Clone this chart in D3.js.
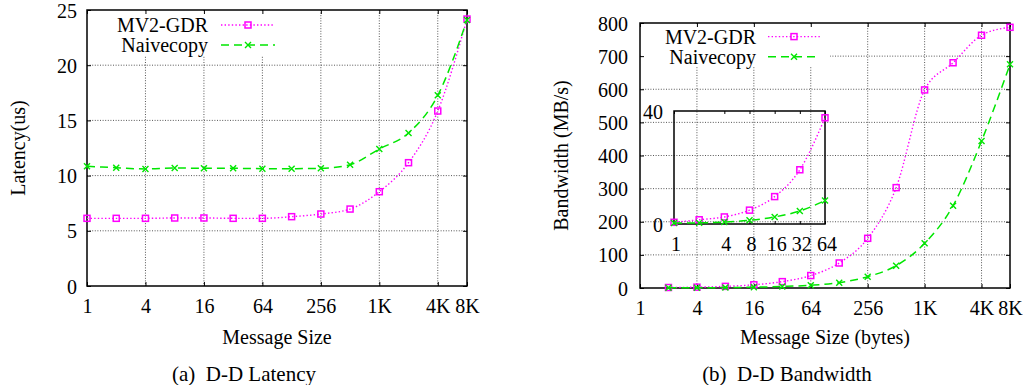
<!DOCTYPE html>
<html><head><meta charset="utf-8">
<script src="https://cdn.jsdelivr.net/npm/d3@7/dist/d3.min.js"></script>
<style>
body{margin:0;background:#fff}
svg{display:block}
text{font-family:"Liberation Serif","Times New Roman",serif;fill:#000}
</style>
</head><body>
<svg id="c" width="1025" height="385"></svg>
<script>
// ---------- data ----------
const sizeTicks = [1, 4, 16, 64, 256, 1024, 4096, 8192];
const sizeTickLabels = ["1", "4", "16", "64", "256", "1K", "4K", "8K"];

const latSizes = [1, 2, 4, 8, 16, 32, 64, 128, 256, 512, 1024, 2048, 4096, 8192];
const latMV2 = [6.13, 6.13, 6.13, 6.16, 6.16, 6.13, 6.13, 6.28, 6.52, 6.97, 8.54, 11.17, 15.85, 24.18];
const latNaive = [10.84, 10.72, 10.60, 10.69, 10.66, 10.66, 10.63, 10.63, 10.66, 10.99, 12.41, 13.86, 17.27, 24.09];
const latYTicks = [0, 5, 10, 15, 20, 25];

const bwSizes = [1, 2, 4, 8, 16, 32, 64, 128, 256, 512, 1024, 2048, 4096, 8192];
const bwMV2 = [0.6, 1.5, 2.5, 4.9, 9.7, 19.2, 37.6, 75.5, 150, 303, 598, 680, 763, 787];
const bwNaive = [0.35, 0.4, 0.7, 1.3, 2.5, 4.6, 8.3, 16.1, 34.2, 67.4, 134.8, 248.6, 443.8, 675.2];
const bwYTicks = [0, 100, 200, 300, 400, 500, 600, 700, 800];

const insetTicks = [1, 4, 8, 16, 32, 64];
const insetTickLabels = ["1", "4", "8", "16", "32", "64"];
const insetYTicks = [0, 40];

const seriesNames = ["MV2-GDR", "Naivecopy"];
const captions = ["(a)\u2002D-D Latency", "(b)\u2002D-D Bandwidth"];
const xTitles = ["Message Size", "Message Size (bytes)"];
const yTitles = ["Latency(us)", "Bandwidth (MB/s)"];

// ---------- styles ----------
const MAG = "#ff00ff", GRN = "#00e600";
const FONT = '"Liberation Serif","Times New Roman",serif';
const styles = [
  {color: MAG, dash: "1.4,2.2", width: 1.4, marker: "square"},
  {color: GRN, dash: "8,5", width: 1.5, marker: "cross"}
];

const svg = d3.select("#c").attr("font-family", FONT);
svg.append("rect").attr("width", 1025).attr("height", 385).attr("fill", "#fff");

function drawMarker(g, type, cx, cy, color) {
  if (type === "square") {
    g.append("rect").attr("x", cx - 3).attr("y", cy - 3).attr("width", 6).attr("height", 6)
      .attr("fill", "none").attr("stroke", color).attr("stroke-width", 1.5);
  } else {
    g.append("path").attr("d", `M${cx-3},${cy-3}L${cx+3},${cy+3}M${cx-3},${cy+3}L${cx+3},${cy-3}`)
      .attr("stroke", color).attr("stroke-width", 1.4).attr("fill", "none");
  }
}

function drawSeries(g, x, y, xs, ys, st) {
  const pts = xs.map((d, i) => [x(d), y(ys[i])]);
  g.append("path").attr("d", d3.line().curve(d3.curveMonotoneX)(pts))
    .attr("fill", "none").attr("stroke", st.color).attr("stroke-width", st.width)
    .attr("stroke-dasharray", st.dash);
  pts.forEach(p => drawMarker(g, st.marker, p[0], p[1], st.color));
}

function panel(o) {
  const g = svg.append("g");
  const x = d3.scaleLog().base(2).domain([1, 8192]).range([o.x0, o.x1]);
  const y = d3.scaleLinear().domain([0, o.yTicks[o.yTicks.length - 1]]).range([o.y1, o.y0]);

  // grid
  const grid = g.append("g").attr("stroke", "#444").attr("stroke-width", 0.9).attr("stroke-dasharray", "1,1.6");
  sizeTicks.slice(1, -1).forEach(t => grid.append("line").attr("x1", x(t)).attr("x2", x(t)).attr("y1", o.y0).attr("y2", o.y1));
  o.yTicks.slice(1, -1).forEach(t => grid.append("line").attr("x1", o.x0).attr("x2", o.x1).attr("y1", y(t)).attr("y2", y(t)));

  // opaque legend area
  g.append("rect").attr("x", o.leg.x).attr("y", o.leg.y).attr("width", o.leg.w).attr("height", o.leg.h).attr("fill", "#fff");

  // axes
  const ax = d3.axisBottom(x).tickValues(sizeTicks).tickFormat((d, i) => sizeTickLabels[i]).tickSize(-4).tickPadding(13);
  const axB = g.append("g").attr("transform", `translate(0,${o.y1})`).call(ax);
  const axT = g.append("g").attr("transform", `translate(0,${o.y0})`).call(d3.axisTop(x).tickValues(sizeTicks).tickFormat("").tickSize(-4));
  const axL = g.append("g").attr("transform", `translate(${o.x0},0)`).call(d3.axisLeft(y).tickValues(o.yTicks).tickSize(-4).tickPadding(o.ypad));
  const axR = g.append("g").attr("transform", `translate(${o.x1},0)`).call(d3.axisRight(y).tickValues(o.yTicks).tickFormat("").tickSize(-4));
  [axB, axT, axL, axR].forEach(a => {
    a.attr("font-family", FONT);
    a.select(".domain").remove();
    a.selectAll("line").attr("stroke", "#000").attr("stroke-width", 1);
    a.selectAll("text").attr("font-size", 20);
  });
  axL.selectAll("text").attr("dy", "0.35em");

  g.append("rect").attr("x", o.x0).attr("y", o.y0).attr("width", o.x1 - o.x0).attr("height", o.y1 - o.y0)
    .attr("fill", "none").attr("stroke", "#000").attr("stroke-width", 1.5);

  // series
  o.series.forEach((s, k) => {
    const xs = o.xs.filter(d => d >= o.minX);
    const ys = s.filter((d, i) => o.xs[i] >= o.minX);
    drawSeries(g, x, y, xs, ys, styles[k]);
  });

  // legend
  seriesNames.forEach((n, k) => {
    const ly = o.leg.rows[k];
    g.append("text").attr("x", o.leg.textX).attr("y", ly + 7).attr("text-anchor", "end").attr("font-size", 20).text(n);
    const st = styles[k];
    g.append("line").attr("x1", o.leg.s0).attr("x2", o.leg.s1).attr("y1", ly).attr("y2", ly)
      .attr("stroke", st.color).attr("stroke-width", st.width).attr("stroke-dasharray", st.dash);
    drawMarker(g, st.marker, (o.leg.s0 + o.leg.s1) / 2, ly, st.color);
  });

  // titles
  g.append("text").attr("x", (o.x0 + o.x1) / 2).attr("y", 344).attr("text-anchor", "middle").attr("font-size", 20).text(o.xTitle);
  g.append("text").attr("transform", `translate(${o.yTitleX},${(o.y0 + o.y1) / 2}) rotate(-90)`)
    .attr("text-anchor", "middle").attr("font-size", 20).text(o.yTitle);
  g.append("text").attr("x", o.capX).attr("y", 381).attr("text-anchor", "middle").attr("font-size", 21).text(o.caption);
  return g;
}

panel({x0: 87, x1: 467, y0: 10, y1: 286, yTicks: latYTicks, ypad: 10,
  xs: latSizes, series: [latMV2, latNaive], minX: 1,
  leg: {x: 88, y: 11, w: 192, h: 45, rows: [25, 45], textX: 208, s0: 221, s1: 275},
  xTitle: xTitles[0], yTitle: yTitles[0], yTitleX: 25, caption: captions[0], capX: 244});

panel({x0: 640, x1: 1010, y0: 23, y1: 288, yTicks: bwYTicks, ypad: 12,
  xs: bwSizes, series: [bwMV2, bwNaive], minX: 2,
  leg: {x: 641, y: 24, w: 189, h: 42, rows: [36.6, 56.8], textX: 756, s0: 768, s1: 820},
  xTitle: xTitles[1], yTitle: yTitles[1], yTitleX: 568, caption: captions[1], capX: 787});

// ---------- inset ----------
(function inset() {
  const g = svg.append("g");
  const x0 = 674, x1 = 825, y0 = 111, y1 = 224;
  const x = d3.scaleLog().base(2).domain([1, 64]).range([x0, x1]);
  const y = d3.scaleLinear().domain([0, 40]).range([y1, y0]);
  const axB = g.append("g").attr("transform", `translate(0,${y1})`)
    .call(d3.axisBottom(x).tickValues(insetTicks).tickFormat((d, i) => insetTickLabels[i]).tickSize(-3).tickPadding(13));
  const axT = g.append("g").attr("transform", `translate(0,${y0})`)
    .call(d3.axisTop(x).tickValues(insetTicks).tickFormat("").tickSize(-3));
  const axL = g.append("g").attr("transform", `translate(${x0},0)`)
    .call(d3.axisLeft(y).tickValues(insetYTicks).tickSize(0).tickPadding(11));
  [axB, axT, axL].forEach(a => {
    a.attr("font-family", FONT);
    a.select(".domain").remove();
    a.selectAll("line").attr("stroke", "#000").attr("stroke-width", 1);
    a.selectAll("text").attr("font-size", 20);
  });
  axB.selectAll("text").attr("dx", 1.5);
  axL.selectAll("text").attr("dy", "0.35em");
  g.append("rect").attr("x", x0).attr("y", y0).attr("width", x1 - x0).attr("height", y1 - y0)
    .attr("fill", "none").attr("stroke", "#000").attr("stroke-width", 1.5);
  const xs = bwSizes.filter(d => d <= 64);
  [bwMV2, bwNaive].forEach((s, k) => drawSeries(g, x, y, xs, s.slice(0, xs.length), styles[k]));
})();
</script>
</body></html>
